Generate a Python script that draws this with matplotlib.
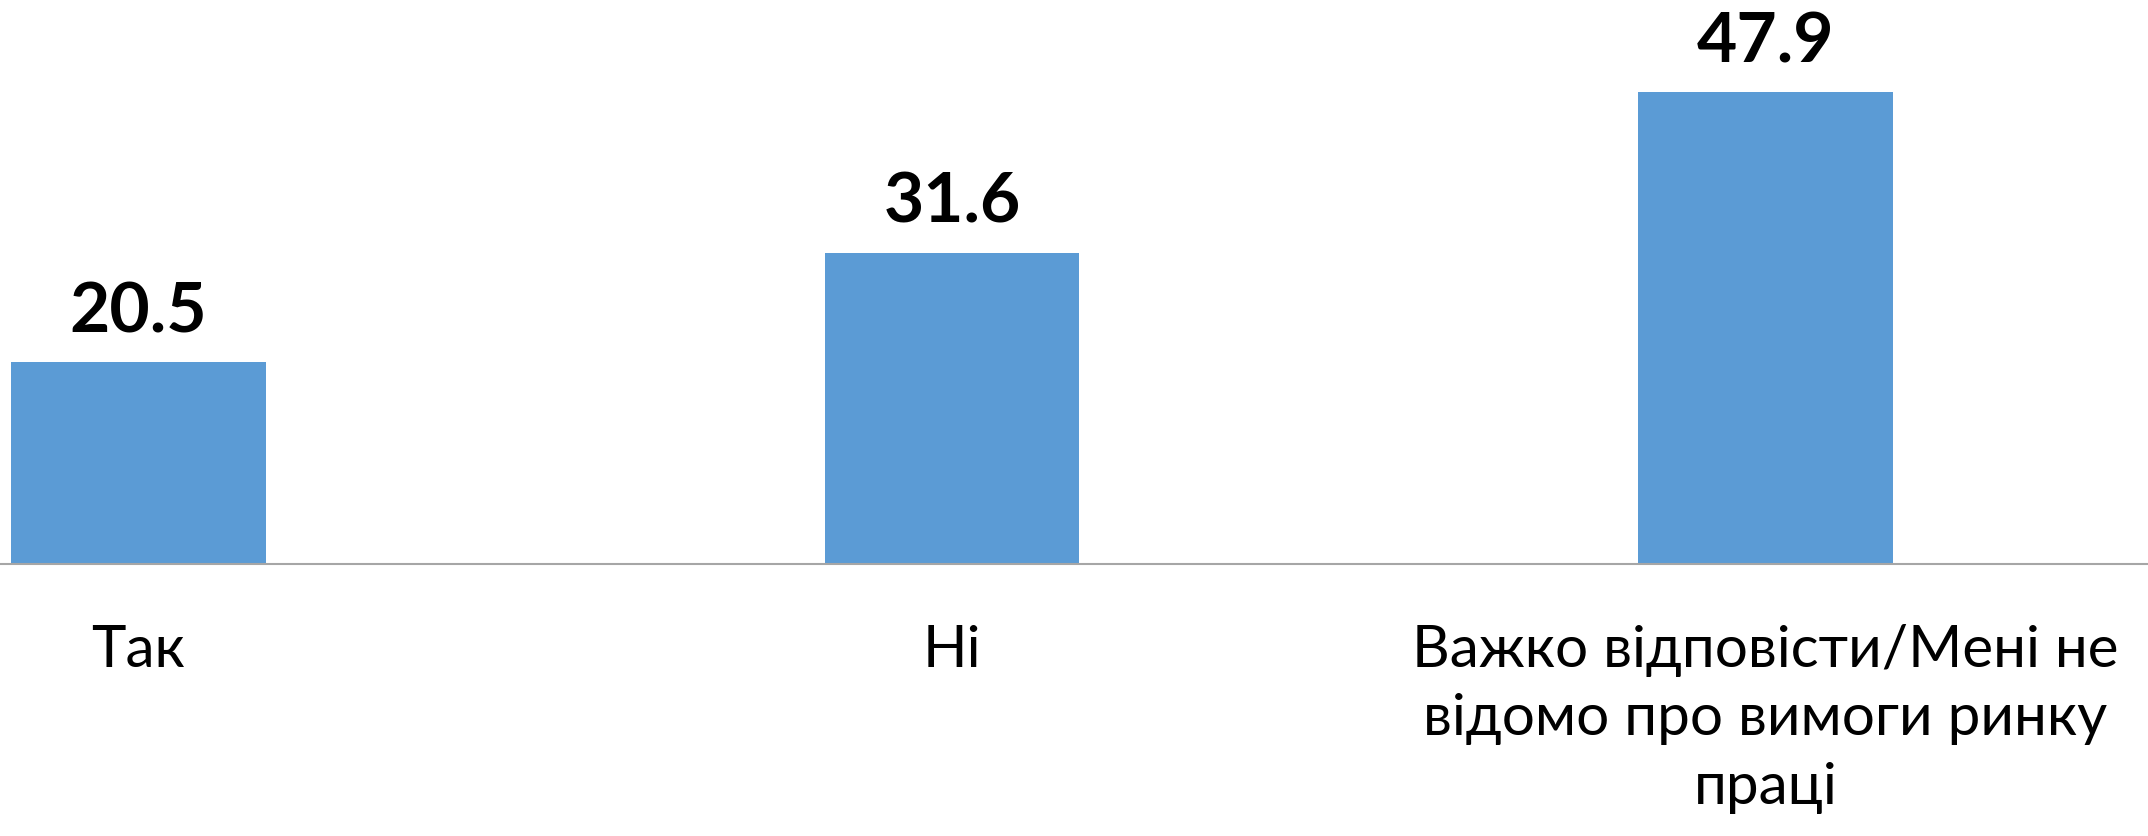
import matplotlib
matplotlib.use("Agg")
import matplotlib.pyplot as plt

# ========== DATA ==========

categories = [
    "Так",
    "Ні",
    "Важко відповісти/Мені не\nвідомо про вимоги ринку\nпраці",
]
values = [20.5, 31.6, 47.9]

BAR_COLOR = "#5B9BD5"
plt.rcParams['font.family'] = ['Lato', 'Open Sans', 'DejaVu Sans']

# ========== PLOT ==========

fig = plt.figure(figsize=(21.48, 8.36), dpi=100)
ax = fig.add_axes([0, 0.3254, 1, 0.6746])

x = list(range(len(categories)))
bars = ax.bar(x, values, width=0.313, color=BAR_COLOR, zorder=2)

ax.set_xlim(-0.170, 2.47)
ax.set_ylim(0, 57.26)

for rect, v in zip(bars, values):
    ax.annotate(f"{v:.1f}", (rect.get_x() + rect.get_width() / 2, v),
                xytext=(0, 13), textcoords='offset points',
                ha='center', va='bottom', fontsize=50, fontweight='bold', color='black')

ax.set_xticks(x)
ax.set_xticklabels(categories, fontsize=42, linespacing=1.36)
ax.tick_params(axis='x', length=0, pad=43)
ax.set_yticks([])

for side in ('top', 'left', 'right'):
    ax.spines[side].set_visible(False)
ax.spines['bottom'].set_color('#A6A6A6')
ax.spines['bottom'].set_linewidth(1.5)

fig.savefig("out.png", dpi=100)
